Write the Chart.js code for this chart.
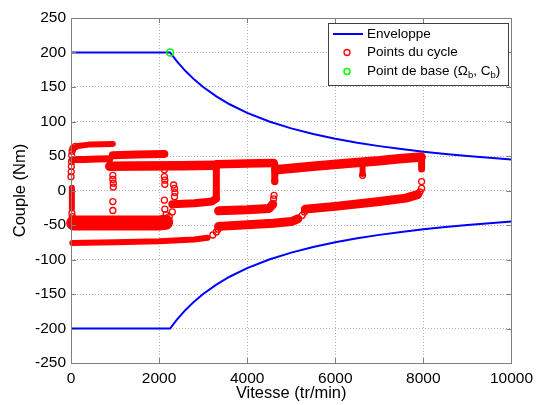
<!DOCTYPE html>
<html>
<head>
<meta charset="utf-8">
<script src="https://cdn.jsdelivr.net/npm/chart.js@4"></script>
<style>
  html, body { margin: 0; padding: 0; background: #fff; }
  canvas { display: block; }
</style>
</head>
<body>
<canvas id="chart" width="539" height="405"></canvas>
<script>
// Couple / vitesse : enveloppe du moteur et points de fonctionnement du cycle.

// Enveloppe (tr/min, Nm)
const envSpeed = [0, 2250, 2400, 2600, 2800, 3000, 3300, 3600, 4000, 4500, 5000, 5500, 6000, 6500, 7000, 7500, 8000, 8500, 9000, 9500, 10000];
const envTorqueUp = [200, 200, 187.5, 173.1, 160.7, 150, 136.4, 125, 112.5, 100, 90, 81.8, 75, 69.2, 64.3, 60, 56.3, 52.9, 50, 47.4, 45];
const envTorqueDown = [-200, -200, -187.5, -173.1, -160.7, -150, -136.4, -125, -112.5, -100, -90, -81.8, -75, -69.2, -64.3, -60, -56.3, -52.9, -50, -47.4, -45];

// Point de base
const baseSpeed = [2250];
const baseTorque = [200];

// Points du cycle isolés
const cycleSpeed = [0, 5, 8, 12, 15, 25, 45, 100, 20, 30,
  950, 950, 960, 960, 950, 950,
  2120, 2120, 2130, 2130, 2120, 2130, 2160,
  2330, 2350, 2360, 2350, 2230, 2300,
  3220, 3300, 3340, 4600, 4610, 4626, 5250, 5300, 6620, 7960, 7960, 7920];
const cycleTorque = [20, 27, 35, 42, 51, 57, 61, 64, -33, -38,
  22, 16, 10.5, 5, -16, -29,
  30, 20, 15, 9, -14, -27, -35,
  8, 3, -3, -9, -38, -31,
  -64.5, -60, -56, -12, -7, 13, -36, -31, 22, 13, 3, -2];

// Points du cycle serrés (paliers), lus par segment
const bandSpeeds = [
  [60, 150, 400, 700, 950],
  [40, 300, 600, 880],
  [950, 1500, 2120],
  [880, 1500, 2500, 3290],
  [3310, 4000, 4600],
  [4650, 5500, 6300, 7000, 7450, 7950],
  [3300, 3300],
  [4626, 4626],
  [6620, 6620],
  [7960, 7960],
  [20, 20],
  [60, 1000, 2000, 2150],
  [2300, 2800, 3200, 3290],
  [30, 1000, 2000, 2800, 3100],
  [3350, 4000, 4600, 5000, 5150],
  [3350, 4000, 4500, 4580],
  [5320, 6000, 7000, 7600, 7870]
];
const bandTorques = [
  [61, 64.5, 66.5, 67, 67.5],
  [45, 45, 45.5, 46],
  [51, 52, 53],
  [35, 35.5, 36, 36.5],
  [38, 39, 40],
  [30, 35, 39.5, 43, 46, 48.5],
  [-12, 36],
  [38, 14],
  [40, 24],
  [48, 31],
  [4, -26],
  [-47, -47, -47, -46],
  [-20, -18.5, -16, -12],
  [-76, -75, -73.5, -71, -68.5],
  [-52, -49.5, -47.5, -45, -41],
  [-29.5, -28, -26, -20],
  [-27, -23, -16, -11, -6]
];
// épaisseur de trait de chaque paquet (px)
const bandWidths = [6, 7, 8, 9.5, 8.5, 9.5, 7, 7, 6, 7, 6, 15, 8, 6, 9, 9, 9];

const RED = "#ff0000", BLUE = "#0000ff", GREEN = "#00ff00";
const FONT = "'Liberation Sans', Arial, sans-serif";

const pts = (xs, ys) => xs.map((x, i) => ({ x, y: ys[i] }));

const datasets = [
  { label: "Enveloppe", data: pts(envSpeed, envTorqueUp), showLine: true, borderColor: BLUE,
    borderWidth: 2, pointRadius: 0, order: 5 },
  { label: "Enveloppe bas", data: pts(envSpeed, envTorqueDown), showLine: true, borderColor: BLUE,
    borderWidth: 2, pointRadius: 0, order: 5 },
];
bandSpeeds.forEach((xs, i) => datasets.push({
  label: "band" + i, data: pts(xs, bandTorques[i]), showLine: true, borderColor: RED,
  borderWidth: bandWidths[i], borderCapStyle: "round", borderJoinStyle: "round",
  pointRadius: 0, order: 3, clip: 8,
}));
datasets.push({ label: "Points du cycle", data: pts(cycleSpeed, cycleTorque), pointStyle: "circle",
  pointRadius: 3, borderWidth: 1.3, borderColor: RED, backgroundColor: "rgba(0,0,0,0)", order: 2, clip: 8 });
datasets.push({ label: "Point de base", data: pts(baseSpeed, baseTorque), pointRadius: 3.5,
  borderWidth: 1.5, borderColor: GREEN, backgroundColor: "rgba(0,0,0,0)", order: 1, clip: 8 });

// Cadre type MATLAB + graduations intérieures
const frame = {
  id: "frame",
  afterDatasetsDraw(chart) {
    const { ctx, chartArea: a, scales } = chart;
    ctx.save();
    ctx.strokeStyle = "#7f7f7f";
    ctx.lineWidth = 1;
    ctx.strokeRect(Math.round(a.left) + 0.5, Math.round(a.top) + 0.5,
      Math.round(a.right - a.left), Math.round(a.bottom - a.top));
    ctx.beginPath();
    scales.x.ticks.forEach((t) => {
      const px = Math.round(scales.x.getPixelForValue(t.value)) + 0.5;
      ctx.moveTo(px, a.bottom); ctx.lineTo(px, a.bottom - 5);
      ctx.moveTo(px, a.top); ctx.lineTo(px, a.top + 5);
    });
    scales.y.ticks.forEach((t) => {
      const py = Math.round(scales.y.getPixelForValue(t.value)) + 0.5;
      ctx.moveTo(a.left, py); ctx.lineTo(a.left + 5, py);
      ctx.moveTo(a.right, py); ctx.lineTo(a.right - 5, py);
    });
    ctx.stroke();
    ctx.restore();
  },
  afterDraw(chart) {
    const ctx = chart.ctx;
    const bx = 328, by = 23, bw = 180, bh = 62;
    ctx.save();
    ctx.fillStyle = "#fff";
    ctx.fillRect(bx, by, bw, bh);
    ctx.strokeStyle = "#404040";
    ctx.lineWidth = 1;
    ctx.strokeRect(bx + 0.5, by + 0.5, bw, bh);

    const rows = [34, 52.5, 71.5];
    ctx.strokeStyle = BLUE; ctx.lineWidth = 2;
    ctx.beginPath(); ctx.moveTo(333, rows[0]); ctx.lineTo(363, rows[0]); ctx.stroke();
    ctx.lineWidth = 1.3; ctx.strokeStyle = RED;
    ctx.beginPath(); ctx.arc(347, rows[1], 3, 0, Math.PI * 2); ctx.stroke();
    ctx.lineWidth = 1.5; ctx.strokeStyle = GREEN;
    ctx.beginPath(); ctx.arc(347, rows[2], 3, 0, Math.PI * 2); ctx.stroke();

    ctx.fillStyle = "#000";
    ctx.textBaseline = "middle";
    ctx.font = "13.5px " + FONT;
    ctx.fillText("Enveloppe", 367, rows[0]);
    ctx.fillText("Points du cycle", 367, rows[1]);
    // "Point de base (Ωb, Cb)" avec indices
    let x = 367;
    const part = (txt, dy, size) => {
      ctx.font = size + "px " + FONT;
      ctx.fillText(txt, x, rows[2] + dy);
      x += ctx.measureText(txt).width;
    };
    part("Point de base (Ω", 0, 13.5);
    part("b", 4, 9.5);
    part(", C", 0, 13.5);
    part("b", 4, 9.5);
    part(")", 0, 13.5);
    ctx.restore();
  },
};

new Chart(document.getElementById("chart"), {
  type: "scatter",
  data: { datasets },
  plugins: [frame],
  options: {
    responsive: false,
    animation: false,
    events: [],
    layout: { padding: { left: 0, right: 27, top: 18, bottom: 0 } },
    plugins: { legend: { display: false }, tooltip: { enabled: false } },
    scales: {
      x: {
        type: "linear", min: 0, max: 10000,
        afterFit: (s) => { s.height = 42; },
        ticks: { stepSize: 2000, padding: 6, maxRotation: 0, color: "#000",
          font: { family: FONT, size: 15.5 }, callback: (v) => String(v) },
        grid: { color: "#b4b4b4", drawTicks: false, lineWidth: 1 },
        border: { display: false, dash: [1, 2] },
        title: { display: true, text: "Vitesse (tr/min)", color: "#000",
          font: { family: FONT, size: 16.5 }, padding: { top: 0, bottom: 2 } },
      },
      y: {
        type: "linear", min: -250, max: 250,
        afterFit: (s) => { s.width = 71; },
        ticks: { stepSize: 50, padding: 5, color: "#000",
          font: { family: FONT, size: 15.5 }, callback: (v) => String(v) },
        grid: { color: "#b4b4b4", drawTicks: false, lineWidth: 1 },
        border: { display: false, dash: [1, 2] },
        title: { display: true, text: "Couple (Nm)", color: "#000",
          font: { family: FONT, size: 16.5 }, padding: { top: 11, bottom: 0 } },
      },
    },
  },
});
</script>
</body>
</html>
